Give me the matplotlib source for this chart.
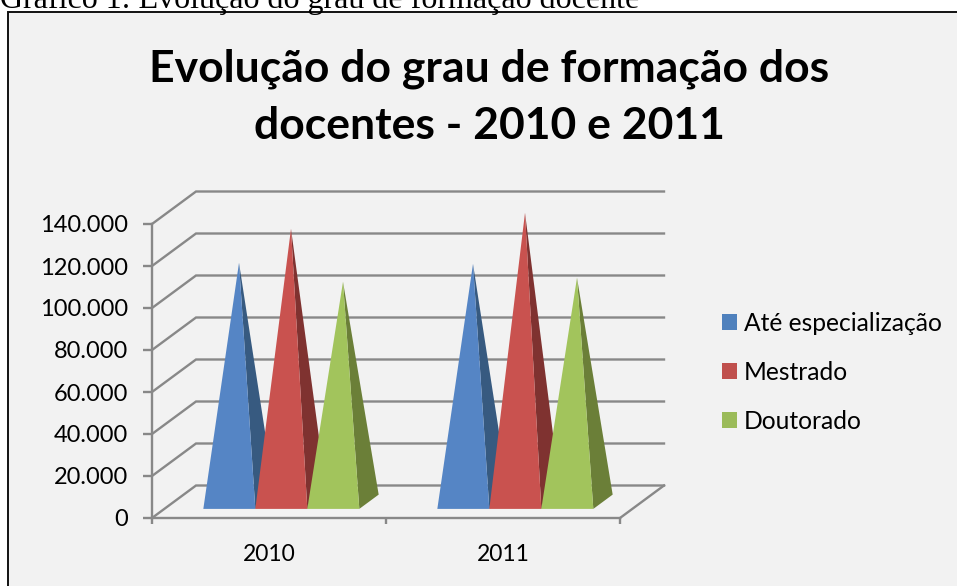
import matplotlib
matplotlib.use('Agg')
import matplotlib.pyplot as plt
from matplotlib.patches import Patch, Polygon, Rectangle
from matplotlib.ticker import FuncFormatter

years = ['2010', '2011']
series = ['Até especialização', 'Mestrado', 'Doutorado']
ate_esp = [113800, 113300]
mestrado = [130000, 137600]
doutorado = [104800, 106700]
yticks = [0, 20000, 40000, 60000, 80000, 100000, 120000, 140000]

front_cols = ['#5585C5', '#C9524F', '#A2C45C']
side_cols = ['#375A80', '#7F3230', '#6B7F38']
legend_cols = ['#4F81BD', '#C0504D', '#9BBB59']
grid_col = '#888888'
W, H = 957, 586

#the fake 3d depth, expressed in axis units (44px across and 32px up at full depth)
depth_x = 44 / 234
depth_y = 32.5 / 2.1 * 1000
bar_w = 0.2222
d_front, d_back = 0.28, 0.72


def px(x, y): #pixel position in the picture -> figure fraction
    return x / W, 1 - y / H


def proj(x, v, d): #axis position at depth d (0 front wall, 1 back wall)
    return x + d * depth_x, v + d * depth_y


def pyramid(ax, x, v, i): #side face first so the front face sits over it
    left = proj(x, 0, d_front)
    right = proj(x + bar_w, 0, d_front)
    back = proj(x + bar_w, 0, d_back)
    top = proj(x + bar_w / 2, v, 0.5)
    ax.add_patch(Polygon([right, back, top], closed=True, fc=side_cols[i], ec='none', clip_on=False, zorder=3 + i))
    ax.add_patch(Polygon([left, right, top], closed=True, fc=front_cols[i], ec='none', clip_on=False, zorder=3 + i))


fig = plt.figure(figsize=(W / 100, H / 100), dpi=100, facecolor='white')

#chart box runs off the right and bottom of the picture
fig.add_artist(Rectangle(px(8, 600), 980 / W, 588 / H, transform=fig.transFigure, fc='#F2F2F2', ec='#111111', lw=1.4, zorder=-1))

x0, y0 = px(152, 518)
x1, y1 = px(620, 224)
ax = fig.add_axes([x0, y0, x1 - x0, y1 - y0])
ax.patch.set_alpha(0)
ax.set_xlim(-0.5, 1.5)
ax.set_ylim(0, 140000)

for s in ['top', 'right']:
    ax.spines[s].set_visible(False)
for s in ['left', 'bottom']:
    ax.spines[s].set_color(grid_col)
    ax.spines[s].set_linewidth(1.7)

ax.set_yticks(yticks)
ax.yaxis.set_major_formatter(FuncFormatter(lambda v, p: '{:,.0f}'.format(v).replace(',', '.')))
ax.set_xticks([-0.5, 0.5, 1.5])
ax.set_xticklabels([])
ax.set_xticks([0, 1], minor=True)
ax.set_xticklabels(years, minor=True)
ax.tick_params(axis='y', which='major', length=6.5, width=1.7, color=grid_col, labelsize=17, pad=11, labelcolor='black', labelfontfamily='Lato')
ax.tick_params(axis='x', which='major', length=4.5, width=1.7, color=grid_col)
ax.tick_params(axis='x', which='minor', length=0, labelsize=16.5, pad=19, labelfontfamily='Lato')
for lab in ax.get_yticklabels():
    lab.set_verticalalignment('center_baseline')

#walls and floor
for v in yticks:
    a = proj(-0.5, v, 0)
    b = proj(-0.5, v, 1)
    c = proj(1.5, v, 1)
    ax.plot([a[0], b[0], c[0]], [a[1], b[1], c[1]], color=grid_col, lw=1.7, clip_on=False, zorder=1, solid_joinstyle='miter')
a = proj(1.5, 0, 0)
b = proj(1.5, 0, 1)
ax.plot([a[0], b[0]], [a[1], b[1]], color=grid_col, lw=1.7, clip_on=False, zorder=1)

#pyramids, the group is centred on the category at mid depth
for k in range(len(years)):
    vals = [ate_esp[k], mestrado[k], doutorado[k]]
    for i in range(3):
        pyramid(ax, k - 1.5 * bar_w + i * bar_w, vals[i], i)

handles = [Patch(fc=legend_cols[i], ec='none', label=series[i]) for i in range(3)]
leg = ax.legend(handles=handles, loc='upper left', bbox_to_anchor=px(722, 312), bbox_transform=fig.transFigure,
                frameon=False, prop={'family': 'Lato', 'size': 17.7}, labelspacing=1.05, handlelength=0.61,
                handleheight=0.61, handletextpad=0.28, borderpad=0, borderaxespad=0)

tx, ty = px(489, 97)
fig.text(tx, ty, 'Evolução do grau de formação dos\ndocentes - 2010 e 2011', ha='center', va='center',
         family='Lato', weight='bold', size=32, linespacing=1.52, color='black')

cx, cy = px(0, 8)
fig.text(cx, cy, 'Gráfico 1: Evolução do grau de formação docente', ha='left', va='baseline',
         family='Liberation Serif', size=23, color='black')

fig.savefig('out.png', dpi=100, facecolor='white')
